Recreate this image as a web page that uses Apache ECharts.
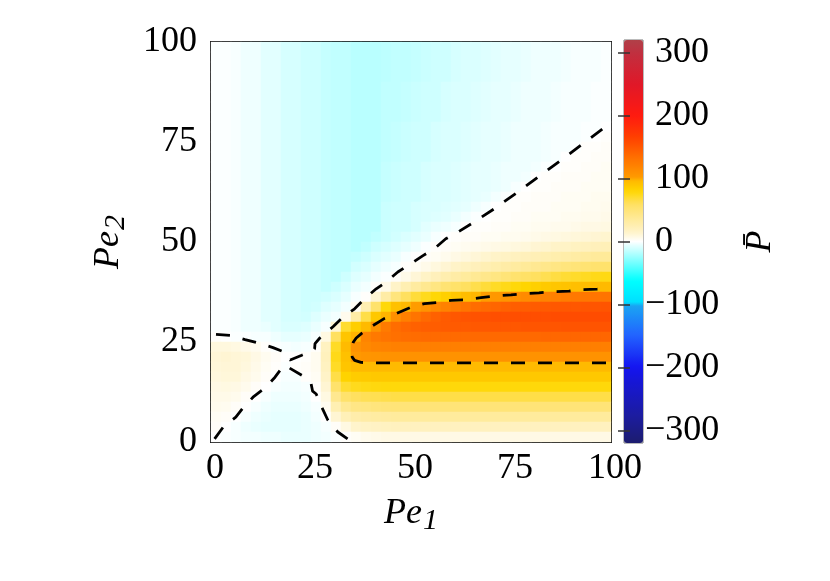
<!DOCTYPE html>
<html>
<head>
<meta charset="utf-8">
<script src="https://cdn.jsdelivr.net/npm/echarts@6/dist/echarts.min.js"></script>
<style>html,body{margin:0;padding:0;background:#fff}#c{width:830px;height:581px}</style>
</head>
<body>
<div id="c"></div>
<script>
// ---- data ----
const pe1Centers = [1.25,3.75,6.25,8.75,11.25,13.75,16.25,18.75,21.25,23.75,26.25,28.75,31.25,33.75,36.25,38.75,41.25,43.75,46.25,48.75,51.25,53.75,56.25,58.75,61.25,63.75,66.25,68.75,71.25,73.75,76.25,78.75,81.25,83.75,86.25,88.75,91.25,93.75,96.25,98.75];
const pe2Centers = [1.25,3.75,6.25,8.75,11.25,13.75,16.25,18.75,21.25,23.75,26.25,28.75,31.25,33.75,36.25,38.75,41.25,43.75,46.25,48.75,51.25,53.75,56.25,58.75,61.25,63.75,66.25,68.75,71.25,73.75,76.25,78.75,81.25,83.75,86.25,88.75,91.25,93.75,96.25,98.75];
const axisTicks = [0,25,50,75,100];
const colorbarTicks = [-300,-200,-100,0,100,200,300];

// P-bar values, one row per Pe2 cell, top row (Pe2 = 98.75) first, columns Pe1 = 1.25 ... 98.75
const pBarRows = [
[-1,-1,-2,-4,-4,-7,-7,-10,-10,-12,-12,-14,-15,-15,-17,-17,-17,-16,-15,-15,-14,-13,-12,-12,-10,-9,-9,-8,-7,-6,-6,-5,-4,-4,-4,-3,-2,-2,-2,-1],
[-1,-1,-2,-4,-4,-7,-7,-10,-10,-12,-12,-14,-15,-15,-17,-17,-17,-16,-15,-15,-14,-13,-12,-12,-10,-9,-9,-8,-7,-6,-6,-5,-4,-4,-4,-3,-2,-2,-2,-1],
[-1,-1,-2,-4,-4,-7,-7,-10,-10,-12,-12,-14,-15,-15,-17,-17,-17,-16,-15,-15,-14,-13,-12,-12,-10,-9,-9,-8,-7,-6,-6,-5,-4,-4,-4,-3,-2,-2,-2,-1],
[-1,-1,-2,-4,-4,-7,-7,-10,-10,-12,-12,-14,-15,-15,-17,-17,-17,-16,-15,-15,-14,-13,-12,-12,-10,-9,-9,-8,-7,-6,-6,-5,-4,-4,-4,-3,-2,-2,-2,-1],
[-1,-1,-2,-4,-4,-7,-7,-10,-10,-12,-12,-14,-15,-15,-17,-17,-17,-15,-15,-14,-13,-12,-12,-10,-9,-9,-8,-7,-6,-6,-5,-4,-4,-4,-3,-2,-2,-2,-1,-1],
[-1,-1,-2,-4,-4,-7,-7,-10,-10,-12,-12,-14,-15,-15,-17,-17,-17,-15,-15,-14,-13,-12,-12,-10,-9,-9,-8,-7,-6,-6,-5,-4,-4,-4,-3,-2,-2,-2,-1,-1],
[-1,-1,-2,-4,-4,-7,-7,-10,-10,-12,-12,-14,-15,-15,-17,-17,-17,-15,-15,-14,-13,-12,-12,-10,-9,-9,-8,-7,-6,-6,-5,-4,-4,-4,-3,-2,-2,-2,-1,-1],
[-1,-1,-2,-4,-4,-7,-7,-10,-10,-12,-12,-14,-15,-15,-17,-17,-17,-15,-15,-14,-13,-12,-12,-10,-9,-9,-8,-7,-6,-6,-5,-4,-4,-4,-3,-2,-2,-2,-1,-1],
[-1,-1,-2,-4,-4,-7,-7,-10,-10,-12,-12,-14,-15,-15,-17,-17,-17,-15,-14,-13,-12,-12,-10,-9,-9,-8,-7,-6,-6,-5,-4,-4,-4,-3,-2,-2,-2,-1,-1,0],
[-1,-1,-2,-4,-4,-7,-7,-10,-10,-12,-12,-14,-15,-15,-17,-17,-17,-15,-14,-13,-12,-12,-10,-9,-9,-8,-7,-6,-6,-5,-4,-4,-4,-3,-2,-2,-2,-1,0,1],
[-1,-1,-2,-4,-4,-7,-7,-10,-10,-12,-12,-14,-15,-15,-17,-17,-17,-15,-14,-13,-12,-12,-10,-9,-9,-8,-7,-6,-6,-5,-4,-4,-4,-3,-2,-2,-1,1,1,2],
[-1,-1,-2,-4,-4,-7,-7,-10,-10,-12,-12,-14,-15,-15,-17,-17,-17,-15,-14,-13,-12,-12,-10,-9,-9,-8,-7,-6,-6,-5,-4,-4,-4,-3,-2,0,1,1,2,2],
[-1,-1,-2,-4,-4,-7,-7,-10,-10,-12,-12,-14,-15,-15,-17,-17,-17,-14,-13,-12,-12,-10,-9,-9,-8,-7,-6,-6,-5,-4,-4,-4,-3,-1,0,1,1,2,2,3],
[-1,-1,-2,-4,-4,-7,-7,-10,-10,-12,-12,-14,-15,-15,-17,-17,-17,-14,-13,-12,-12,-10,-9,-9,-8,-7,-6,-6,-5,-4,-4,-3,0,1,1,2,2,2,3,3],
[-1,-1,-2,-4,-4,-7,-7,-10,-10,-12,-12,-14,-15,-15,-17,-17,-17,-14,-13,-12,-12,-10,-9,-9,-8,-7,-6,-6,-5,-4,-2,0,1,1,2,2,2,3,3,3],
[-1,-1,-2,-4,-4,-7,-7,-10,-10,-12,-12,-14,-15,-15,-17,-17,-17,-14,-13,-12,-12,-10,-9,-9,-8,-7,-6,-5,-3,-1,1,1,2,2,2,3,3,3,4,4],
[-1,-1,-2,-4,-4,-7,-7,-10,-10,-12,-12,-14,-15,-15,-17,-17,-17,-13,-12,-12,-10,-9,-9,-8,-7,-6,-4,-2,0,1,1,2,2,2,3,3,3,4,4,5],
[-1,-1,-2,-4,-4,-7,-7,-10,-10,-12,-12,-14,-15,-15,-17,-17,-17,-13,-12,-12,-10,-9,-8,-7,-5,-3,-1,0,1,1,2,2,3,3,3,4,4,5,5,6],
[-1,-1,-2,-4,-4,-7,-7,-10,-10,-12,-12,-14,-15,-15,-17,-17,-17,-13,-12,-12,-10,-7,-5,-4,-2,0,1,1,2,2,3,3,4,4,5,5,6,7,7,8],
[-1,-1,-2,-4,-4,-7,-7,-10,-10,-12,-12,-14,-15,-15,-17,-17,-15,-13,-11,-9,-7,-5,-2,0,1,2,2,3,3,4,4,5,6,7,8,9,10,11,12,13],
[-1,-1,-2,-4,-4,-7,-7,-10,-10,-12,-12,-14,-15,-15,-17,-15,-12,-10,-8,-6,-4,-1,1,2,3,4,5,6,7,8,9,10,12,13,15,16,18,19,21,22],
[-1,-1,-2,-4,-4,-7,-7,-10,-10,-12,-12,-14,-15,-15,-14,-12,-9,-7,-5,-2,0,2,3,5,7,9,11,13,15,17,19,21,23,25,27,29,31,33,35,36],
[-1,-1,-2,-4,-4,-7,-7,-10,-10,-12,-12,-14,-15,-15,-11,-9,-6,-4,-2,1,3,6,9,12,15,18,21,24,27,30,33,36,39,42,45,48,50,52,54,55],
[-1,-1,-2,-4,-4,-7,-7,-10,-10,-12,-12,-14,-15,-12,-8,-6,-3,-1,2,6,11,16,21,26,30,34,38,42,46,50,54,57,60,63,66,69,71,73,75,76],
[-1,-1,-2,-4,-4,-7,-7,-10,-10,-12,-12,-14,-12,-9,-5,-3,1,6,15,25,33,40,46,52,56,60,64,68,72,75,78,81,84,87,89,91,93,94,95,96],
[-1,-1,-2,-4,-4,-7,-7,-10,-10,-12,-12,-11,-9,-6,-2,1,12,30,48,60,68,74,79,84,89,94,98,101,104,107,110,113,116,119,121,124,126,128,129,130],
[-1,-1,-2,-4,-4,-7,-7,-10,-10,-12,-11,-8,-6,-3,3,25,55,78,92,97,101,108,115,120,125,130,135,138,140,143,145,146,147,148,149,150,150,151,151,152],
[-1,-1,-2,-4,-4,-7,-7,-10,-10,-11,-8,-5,-3,5,30,65,88,99,110,122,130,138,143,147,150,152,153,154,155,155,156,156,156,156,157,157,157,157,157,157],
[-1,-1,-2,-4,-4,-5,-7,-9,-9,-8,-5,-2,12,70,85,96,108,125,135,140,143,145,146,147,148,148,149,149,150,150,150,151,151,151,151,152,152,152,152,152],
[1,0,-1,-1,-2,-2,-4,-6,-6,-5,-2,8,60,90,99,118,126,130,133,135,136,137,137,137,137,137,138,138,138,138,138,138,138,139,139,140,140,140,140,140],
[9,9,8,6,4,1,-1,-2,-3,-2,1,18,72,95,108,115,118,120,121,121,122,122,122,122,122,122,122,122,122,122,122,122,122,122,122,122,122,122,122,122],
[11,12,11,10,7,4,2,0,0,1,4,20,75,92,103,106,107,108,108,108,108,108,108,108,108,108,108,108,108,108,108,108,108,108,108,108,108,108,108,108],
[10,11,11,9,6,3,1,-1,1,2,4,18,72,90,95,96,96,96,96,96,96,96,96,96,96,96,96,96,96,96,96,96,96,96,96,96,96,96,96,96],
[9,10,10,7,5,2,0,-2,-2,1,3,15,65,82,86,87,88,88,88,88,88,88,88,88,88,88,88,88,88,88,88,88,88,88,88,88,88,88,88,88],
[7,8,7,5,2,0,-2,-3,-3,-2,1,12,55,70,74,76,77,78,78,78,78,78,78,78,78,78,78,78,78,78,78,78,78,78,78,78,78,78,78,78],
[6,6,5,2,0,-2,-4,-4,-4,-3,0,8,40,55,60,62,63,64,65,65,65,65,65,65,65,65,65,65,65,65,65,65,65,65,65,65,65,65,65,65],
[5,4,2,0,-2,-4,-5,-5,-5,-4,-2,4,25,38,44,46,48,49,50,50,50,50,50,50,50,50,50,50,50,50,50,50,50,50,50,50,50,50,50,50],
[3,2,0,-2,-4,-5,-6,-6,-6,-5,-3,0,12,22,28,30,32,33,34,34,34,34,34,34,34,34,34,34,34,34,34,34,34,34,34,34,34,34,34,34],
[2,0,-2,-4,-5,-6,-6,-6,-6,-5,-4,-2,2,8,14,16,17,18,19,19,19,19,19,19,19,19,19,19,19,19,19,19,19,19,19,19,19,19,19,19],
[0,-1,-2,-3,-3,-4,-4,-5,-5,-5,-4,-3,-1,1,3,5,6,7,7,7,7,7,7,7,7,7,7,7,7,7,7,7,7,7,7,7,7,7,7,7]
];

// contour lines, [Pe1, Pe2]
const contourZeroUpper = [[1.25,26.9],[5.2,26.6],[8.5,25.6],[12,24.7],[15.5,23.6],[18.6,22.4],[19.1,21.0],[19.8,20.5],[22.7,21.7],[24.6,22.5],[25.9,23.3],[26.0,24.6],[27.2,26.0],[30.5,28.8],[33,31.2],[35.9,33.3],[38.4,35.8],[41.3,38.3],[43.8,40.0],[46.7,42.5],[50,44.6],[53,46.6],[55.9,48.4],[58.7,50.8],[61.6,52.4],[65,54.5],[70.8,58.3],[76.6,62.4],[82.5,66.8],[88,70.8],[93,74.6],[98.75,78.9]];
const contourZeroLower = [[0.9,0.8],[3.1,3.8],[6.2,6.2],[8,8.5],[10.5,11.2],[13.5,13.5],[16,16.2],[17.7,18.5],[18.8,19.2],[19.6,18.5],[22.7,16.7],[25.0,14.7],[25.4,12.7],[26.3,12.0],[27.7,8.7],[29.2,5.5],[31.7,2.5],[34.4,0.6]];
const contourHundred = [[98.75,19.8],[80,19.8],[60,19.8],[40,19.8],[37.5,19.9],[35.9,20.4],[35.3,21.2],[35.2,23.8],[35.6,25.0],[36.3,26.0],[37.6,27.1],[40,28.8],[43.4,30.9],[46.3,32.1],[50,33.7],[53.4,34.6],[57,34.9],[60,35.4],[64,35.6],[67.5,36.1],[71.3,36.5],[75,36.8],[78.3,37.1],[82,37.3],[85.8,37.6],[89.5,37.7],[92.8,38.1],[96.5,38.2],[98.75,38.3]];

// ---- colour scale (style) ----
const cbStops = [[-320,'#1c1c6e'],[-280,'#1c1c9c'],[-220,'#1616d8'],[-200,'#1414f0'],[-150,'#2262ff'],[-101,'#1aa6f2'],[-100,'#00dcff'],[-62,'#00ffff'],[0,'#ffffff'],[15,'#fff3c8'],[40,'#ffe890'],[60,'#ffe060'],[80,'#ffd700'],[99,'#ffb400'],[101,'#ff9c00'],[140,'#ff6600'],[165,'#ff4000'],[200,'#ff1a10'],[250,'#e01828'],[300,'#c03040'],[320,'#b04048']];
function hex2rgb(h){return [parseInt(h.slice(1,3),16),parseInt(h.slice(3,5),16),parseInt(h.slice(5,7),16)];}
function colorAt(v){
  for(let k=0;k<cbStops.length-1;k++){
    const a=cbStops[k],b=cbStops[k+1];
    if(v>=a[0]&&v<=b[0]){
      const t=(v-a[0])/(b[0]-a[0]);const ca=hex2rgb(a[1]),cb=hex2rgb(b[1]);
      const c=ca.map((x,n)=>Math.round(x+(cb[n]-x)*t));
      return 'rgb('+c.join(',')+')';
    }
  }
  return cbStops[cbStops.length-1][1];
}
const cbMin=-320, cbMax=320;
const paletteColors=[];
for(let v=cbMin;v<=cbMax;v+=1){paletteColors.push(colorAt(v));}

// ---- build heatmap data ----
const heatData=[];
pBarRows.forEach((row,r)=>{const j=pBarRows.length-1-r;row.forEach((v,i)=>heatData.push([i,j,v]));});

const FONT='Liberation Serif';
const nameRich={
  a:{fontFamily:FONT,fontStyle:'italic',fontSize:36,color:'#000',lineHeight:40,verticalAlign:'top'},
  b:{fontFamily:FONT,fontStyle:'italic',fontSize:30,color:'#000',lineHeight:30,verticalAlign:'bottom',padding:[18,0,0,1]}
};

const chart=echarts.init(document.getElementById('c'),null,{renderer:'canvas'});
chart.setOption({
  animation:false,
  backgroundColor:'#fff',
  grid:[
    {left:211,top:42,width:400,height:400},
    {left:624,top:40,width:19,height:403,show:true,borderColor:'#777',borderWidth:1,backgroundColor:'transparent'}
  ],
  xAxis:[
    {type:'category',gridIndex:0,data:pe1Centers,show:false},
    {type:'value',gridIndex:0,min:0,max:100,interval:25,position:'bottom',
      axisLine:{show:true,onZero:false,lineStyle:{color:'#000',width:2}},axisTick:{show:false},splitLine:{show:false},
      axisLabel:{fontFamily:FONT,fontSize:36,color:'#000',margin:9,padding:[0,0,0,8]},
      name:'{a|Pe}{b|1}',nameLocation:'middle',nameGap:54,nameMoveOverlap:false,nameTextStyle:{rich:nameRich}},
    {type:'value',gridIndex:0,min:0,max:100,position:'top',axisLine:{show:true,onZero:false,lineStyle:{color:'#000',width:2}},axisTick:{show:false},axisLabel:{show:false},splitLine:{show:false}},
    {type:'value',gridIndex:1,min:0,max:1,show:false}
  ],
  yAxis:[
    {type:'category',gridIndex:0,data:pe2Centers,show:false},
    {type:'value',gridIndex:0,min:0,max:100,interval:25,position:'left',
      axisLine:{show:true,onZero:false,lineStyle:{color:'#000',width:2}},axisTick:{show:false},splitLine:{show:false},
      axisLabel:{fontFamily:FONT,fontSize:36,color:'#000',margin:14},
      name:'{a|Pe}{b|2}',nameLocation:'middle',nameGap:80,nameRotate:90,nameTextStyle:{rich:nameRich}},
    {type:'value',gridIndex:0,min:0,max:100,position:'right',axisLine:{show:true,onZero:false,lineStyle:{color:'#000',width:2}},axisTick:{show:false},axisLabel:{show:false},splitLine:{show:false}},
    {type:'value',gridIndex:1,min:cbMin,max:cbMax,position:'right',z:10,
      axisLine:{show:false},splitLine:{show:false},
      axisTick:{show:true,inside:true,length:6,customValues:colorbarTicks,lineStyle:{color:'#333',width:1.5}},
      axisLabel:{show:true,customValues:colorbarTicks,margin:2,align:'left',
        formatter:function(v){return v<0?'{n|\u2212'+(-v)+'}':'{p|'+v+'}';},
        rich:{n:{fontFamily:FONT,fontSize:36,color:'#000'},p:{fontFamily:FONT,fontSize:36,color:'#000',padding:[0,0,0,10]}}},
      name:'P\u0304',nameLocation:'middle',nameRotate:90,nameGap:100,
      nameTextStyle:{fontFamily:FONT,fontStyle:'italic',fontSize:36,color:'#000'}},
    {type:'value',gridIndex:1,min:cbMin,max:cbMax,position:'left',z:10,
      axisLine:{show:false},splitLine:{show:false},axisLabel:{show:false},
      axisTick:{show:true,inside:true,length:6,customValues:colorbarTicks,lineStyle:{color:'#333',width:1.5}}}
  ],
  visualMap:{
    type:'continuous',min:cbMin,max:cbMax,seriesIndex:0,calculable:false,hoverLink:false,
    orient:'vertical',left:624,top:40,itemWidth:19,itemHeight:403,padding:0,
    inRange:{color:paletteColors}
  },
  series:[
    {type:'heatmap',xAxisIndex:0,yAxisIndex:0,data:heatData,progressive:0,emphasis:{disabled:true},itemStyle:{borderWidth:0}},
    {type:'line',xAxisIndex:1,yAxisIndex:1,data:contourZeroUpper,showSymbol:false,symbol:'none',z:5,lineStyle:{color:'#000',width:2.8,type:[14,13]}},
    {type:'line',xAxisIndex:1,yAxisIndex:1,data:contourZeroLower,showSymbol:false,symbol:'none',z:5,lineStyle:{color:'#000',width:2.8,type:[14,13]}},
    {type:'line',xAxisIndex:1,yAxisIndex:1,data:contourHundred,showSymbol:false,symbol:'none',z:5,lineStyle:{color:'#000',width:2.8,type:[14,13]}},
    {type:'line',xAxisIndex:3,yAxisIndex:3,data:[],showSymbol:false}
  ]
});
</script>
</body>
</html>
